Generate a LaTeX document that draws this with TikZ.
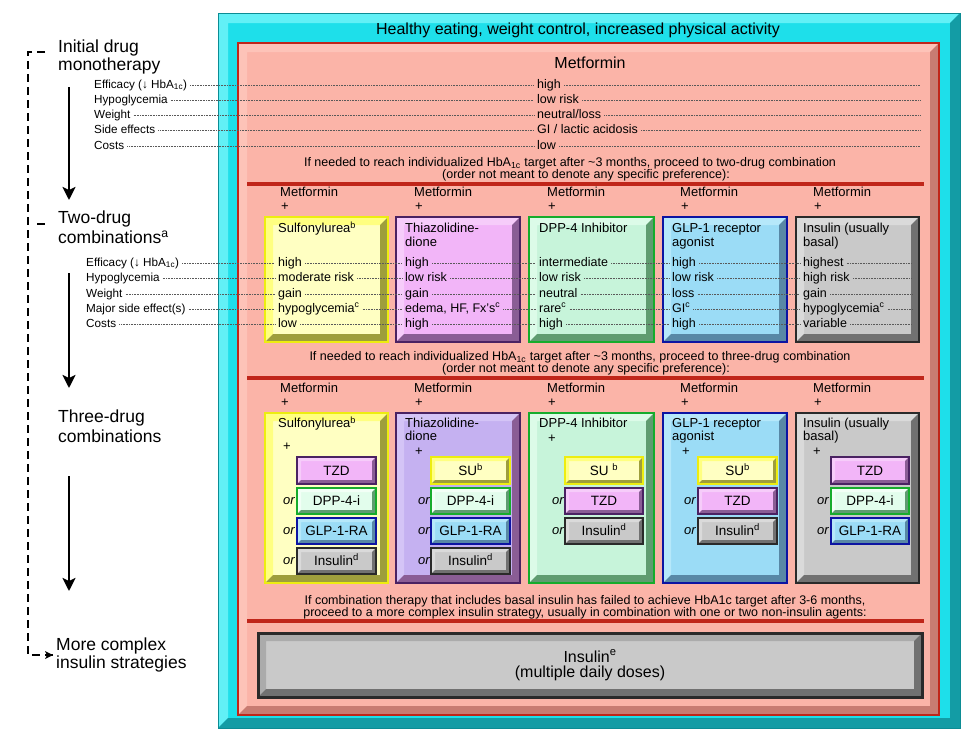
\documentclass[tikz,border=0pt]{standalone}
\usepackage{fontspec}
\setmainfont{Liberation Sans}
\usetikzlibrary{arrows.meta}
\definecolor{cyF}{HTML}{1EDFEA}\definecolor{cyL}{HTML}{62F0F6}\definecolor{cyD}{HTML}{139CA5}\definecolor{cyB}{HTML}{0C8C94}
\definecolor{saF}{HTML}{FBB4A8}\definecolor{saL}{HTML}{FDC3B8}\definecolor{saD}{HTML}{C87C72}\definecolor{saB}{HTML}{C0261A}
\definecolor{yeF}{HTML}{FFFFC2}\definecolor{yeL}{HTML}{FFFF80}\definecolor{yeD}{HTML}{9E9E3C}\definecolor{yeB}{HTML}{EDED10}
\definecolor{piF}{HTML}{F2B5F8}\definecolor{piL}{HTML}{F6CCFA}\definecolor{puD}{HTML}{8A5D95}\definecolor{puB}{HTML}{4A2262}
\definecolor{laF}{HTML}{C5B1F1}\definecolor{laL}{HTML}{D4C4F6}
\definecolor{mnF}{HTML}{C7F4DA}\definecolor{mnL}{HTML}{DCFBE8}\definecolor{gnD}{HTML}{5F9C70}\definecolor{gnB}{HTML}{16AC2C}
\definecolor{msF}{HTML}{E2FDEC}\definecolor{msL}{HTML}{F2FFF6}
\definecolor{blF}{HTML}{9BDCF6}\definecolor{blL}{HTML}{B6E8FA}\definecolor{blD}{HTML}{5888A6}\definecolor{blB}{HTML}{0C14A2}
\definecolor{grF}{HTML}{C9C9C9}\definecolor{grL}{HTML}{DADADA}\definecolor{grD}{HTML}{717171}\definecolor{grB}{HTML}{2A2A2A}
\definecolor{gbL}{HTML}{ABABAB}
\newcommand\defkind[5]{\tikzset{#1-f/.style={fill=#2},#1-l/.style={fill=#3},#1-d/.style={fill=#4},#1-b/.style={draw=#5}}}
\defkind{cy}{cyF}{cyL}{cyD}{cyB}
\defkind{sa}{saF}{saL}{saD}{saB}
\defkind{ye}{yeF}{yeL}{yeD}{yeB}
\defkind{pi}{piF}{piL}{puD}{puB}
\defkind{la}{laF}{laL}{puD}{puB}
\defkind{mn}{mnF}{mnL}{gnD}{gnB}
\defkind{ms}{msF}{msL}{gnD}{gnB}
\defkind{bl}{blF}{blL}{blD}{blB}
\defkind{gr}{grF}{grL}{grD}{grB}
\defkind{gb}{grF}{gbL}{grD}{grB}
\newcommand\bev[7]{%
 \fill[#6-f] (#1,#2) rectangle (#3,#4);
 \fill[#6-l] (#1,#2) -- (#3,#2) -- ({#3-#5},{#2+#5}) -- ({#1+#5},{#2+#5}) -- ({#1+#5},{#4-#5}) -- (#1,#4) -- cycle;
 \fill[#6-d] (#3,#4) -- (#1,#4) -- ({#1+#5},{#4-#5}) -- ({#3-#5},{#4-#5}) -- ({#3-#5},{#2+#5}) -- (#3,#2) -- cycle;
 \draw[#6-b,line width=#7] (#1,#2) rectangle (#3,#4);}
\newcommand\subbx[7]{\bev{#2}{#3}{#4}{#5}{4}{#1}{2.4pt}\node[sub] (#6) at ({(#2+#4)/2},{(#3+#5)/2}) {#7};}
\tikzset{
 hdr/.style={font=\fontsize{17.5}{17.5}\selectfont, anchor=west, inner sep=0pt},
 lbl/.style={font=\fontsize{11.7}{13}\selectfont, anchor=west, inner xsep=3pt, inner ysep=0pt, text height=8.5pt, text depth=2.5pt},
 val/.style={font=\fontsize{12.5}{13}\selectfont, anchor=west, inner xsep=3pt, inner ysep=0pt, text height=9pt, text depth=2.5pt},
 ttl/.style={font=\fontsize{13}{13}\selectfont, anchor=west, inner sep=0pt, text height=9.5pt, text depth=2.5pt},
 note/.style={font=\fontsize{12.5}{12}\selectfont, inner sep=0pt},
 sub/.style={font=\fontsize{13.5}{14}\selectfont, inner sep=0pt, text height=9.5pt, text depth=0pt},
 orl/.style={font=\fontsize{13}{13}\selectfont\itshape, anchor=west, inner sep=0pt, text height=6pt, text depth=0pt},
 big/.style={font=\fontsize{16}{16}\selectfont, inner sep=0pt},
 dots/.style={draw=black!65, line width=0.6pt, dash pattern=on 0.6pt off 1pt},
 redline/.style={draw=saB, line width=4pt},
 bigarrow/.style={line width=2.8pt, -{Stealth[length=13pt,width=13pt,inset=3pt]}},
 dashline/.style={line width=1.8pt, dash pattern=on 8pt off 5pt},
}
\begin{document}
\begin{tikzpicture}[x=1pt,y=-1pt]
\useasboundingbox (0,0) rectangle (964,732);
\fill[white] (0,0) rectangle (964,732);
% frames
\bev{218}{13}{960}{728}{10}{cy}{1pt}
\bev{238}{43}{939}{715}{9}{sa}{2pt}
\node[big] (title) at (578,30) {Healthy eating, weight control, increased physical activity};
% ---------- monotherapy
\node[big] (met0) at (590,63) {Metformin};
\node[lbl] (ml1) at (91,85) {Efficacy (↓ HbA\textsubscript{1c})};
\node[lbl] (ml2) at (91,100) {Hypoglycemia};
\node[lbl] (ml3) at (91,115) {Weight};
\node[lbl] (ml4) at (91,130.5) {Side effects};
\node[lbl] (ml5) at (91,146) {Costs};
\node[val] (mv1) at (534,85) {high};
\node[val] (mv2) at (534,100) {low risk};
\node[val] (mv3) at (534,115) {neutral/loss};
\node[val] (mv4) at (534,130.5) {GI / lactic acidosis};
\node[val] (mv5) at (534,146) {low};
\foreach \i/\yy in {1/85,2/100,3/115,4/130.5,5/146}{
 \coordinate (me\i) at (920,\yy);
 \draw[dots] (ml\i.east) -- (mv\i.west) (mv\i.east) -- (me\i);}
\node[note] (n1a) at (570,163) {If needed to reach individualized HbA\textsubscript{1c} target after \textasciitilde3 months, proceed to two-drug combination};
\node[note] (n1b) at (586,175.5) {(order not meant to denote any specific preference):};
\coordinate (r1a) at (247,184); \coordinate (r1b) at (924,184);
\draw[redline] (r1a) -- (r1b);
% ---------- two-drug
\foreach \i/\mx in {1/280,2/414,3/547,4/680,5/813}{
 \node[ttl] (tm\i) at (\mx,193) {Metformin};
 \node[ttl] (tp\i) at (\mx+1,207) {+};
 \node[ttl] (um\i) at (\mx,389) {Metformin};
 \node[ttl] (up\i) at (\mx+1,403) {+};}
\bev{265}{217}{388}{342}{8}{ye}{2.5pt}
\bev{396}{217}{520}{342}{8}{pi}{2.5pt}
\bev{529}{217}{654}{342}{8}{mn}{2.5pt}
\bev{663}{217}{787}{342}{8}{bl}{2.5pt}
\bev{796}{217}{919}{342}{8}{gr}{2.5pt}
\node[ttl] (h1) at (278,229) {Sulfonylurea\textsuperscript{b}};
\node[ttl] (h2) at (405,229) {Thiazolidine-};
\node[ttl] (h2b) at (405,243) {dione};
\node[ttl] (h3) at (539,229) {DPP-4 Inhibitor};
\node[ttl] (h4) at (672,229) {GLP-1 receptor};
\node[ttl] (h4b) at (672,243) {agonist};
\node[ttl] (h5) at (803,229) {Insulin (usually};
\node[ttl] (h5b) at (803,243) {basal)};
\node[lbl] (tl1) at (83,263) {Efficacy (↓ HbA\textsubscript{1c})};
\node[lbl] (tl2) at (83,278.5) {Hypoglycemia};
\node[lbl] (tl3) at (83,294) {Weight};
\node[lbl] (tl4) at (83,309) {Major side effect(s)};
\node[lbl] (tl5) at (83,324.5) {Costs};
\node[val] (c11) at (275,263) {high};
\node[val] (c12) at (275,278.5) {moderate risk};
\node[val] (c13) at (275,294) {gain};
\node[val] (c14) at (275,309) {hypoglycemia\textsuperscript{c}};
\node[val] (c15) at (275,324.5) {low};
\node[val] (c21) at (402,263) {high};
\node[val] (c22) at (402,278.5) {low risk};
\node[val] (c23) at (402,294) {gain};
\node[val] (c24) at (402,309) {edema, HF, Fx's\textsuperscript{c}};
\node[val] (c25) at (402,324.5) {high};
\node[val] (c31) at (536,263) {intermediate};
\node[val] (c32) at (536,278.5) {low risk};
\node[val] (c33) at (536,294) {neutral};
\node[val] (c34) at (536,309) {rare\textsuperscript{c}};
\node[val] (c35) at (536,324.5) {high};
\node[val] (c41) at (669,263) {high};
\node[val] (c42) at (669,278.5) {low risk};
\node[val] (c43) at (669,294) {loss};
\node[val] (c44) at (669,309) {GI\textsuperscript{c}};
\node[val] (c45) at (669,324.5) {high};
\node[val] (c51) at (800,263) {highest};
\node[val] (c52) at (800,278.5) {high risk};
\node[val] (c53) at (800,294) {gain};
\node[val] (c54) at (800,309) {hypoglycemia\textsuperscript{c}};
\node[val] (c55) at (800,324.5) {variable};
\foreach \r/\yy in {1/263,2/278.5,3/294,4/309,5/324.5}{
 \coordinate (te\r) at (912,\yy);
 \draw[dots] (tl\r.east) -- (c1\r.west) (c1\r.east) -- (c2\r.west) (c2\r.east) -- (c3\r.west)
   (c3\r.east) -- (c4\r.west) (c4\r.east) -- (c5\r.west) (c5\r.east) -- (te\r);}
\node[note] (n2a) at (580,357) {If needed to reach individualized HbA\textsubscript{1c} target after \textasciitilde3 months, proceed to three-drug combination};
\node[note] (n2b) at (586,369.5) {(order not meant to denote any specific preference):};
\coordinate (r2a) at (247,378); \coordinate (r2b) at (924,378);
\draw[redline] (r2a) -- (r2b);
% ---------- three-drug
\bev{265}{413}{388}{583}{8}{ye}{2.5pt}
\bev{396}{413}{520}{583}{8}{la}{2.5pt}
\bev{529}{413}{654}{583}{8}{mn}{2.5pt}
\bev{663}{413}{787}{583}{8}{bl}{2.5pt}
\bev{796}{413}{919}{583}{8}{gr}{2.5pt}
\node[ttl] (k1) at (278,424) {Sulfonylurea\textsuperscript{b}};
\node[ttl] (k2) at (405,424) {Thiazolidine-};
\node[ttl] (k2b) at (405,437) {dione};
\node[ttl] (k3) at (539,424) {DPP-4 Inhibitor};
\node[ttl] (k4) at (672,424) {GLP-1 receptor};
\node[ttl] (k4b) at (672,437) {agonist};
\node[ttl] (k5) at (803,424) {Insulin (usually};
\node[ttl] (k5b) at (803,437) {basal)};
\node[ttl] (kp1) at (283,447) {+};
\node[ttl] (kp2) at (415,452) {+};
\node[ttl] (kp3) at (548,439) {+};
\node[ttl] (kp4) at (682,452) {+};
\node[ttl] (kp5) at (813,452) {+};
% column 1
\subbx{pi}{297}{457}{376}{484}{s11}{TZD}
\subbx{ms}{297}{488}{376}{514}{s12}{DPP-4-i}
\subbx{bl}{297}{518}{376}{544}{s13}{GLP-1-RA}
\subbx{gr}{297}{548}{376}{574}{s14}{Insulin\textsuperscript{d}}
% column 2
\subbx{ye}{431}{457}{510}{484}{s21}{SU\textsuperscript{b}}
\subbx{ms}{431}{488}{510}{514}{s22}{DPP-4-i}
\subbx{bl}{431}{518}{510}{544}{s23}{GLP-1-RA}
\subbx{gr}{431}{548}{510}{574}{s24}{Insulin\textsuperscript{d}}
% column 3
\subbx{ye}{565}{457}{643}{484}{s31}{SU \textsuperscript{b}}
\subbx{pi}{565}{488}{643}{514}{s32}{TZD}
\subbx{gr}{565}{518}{643}{544}{s33}{Insulin\textsuperscript{d}}
% column 4
\subbx{ye}{698}{457}{777}{484}{s41}{SU\textsuperscript{b}}
\subbx{pi}{698}{488}{777}{514}{s42}{TZD}
\subbx{gr}{698}{518}{777}{544}{s43}{Insulin\textsuperscript{d}}
% column 5
\subbx{pi}{831}{457}{909}{484}{s51}{TZD}
\subbx{ms}{831}{488}{909}{514}{s52}{DPP-4-i}
\subbx{bl}{831}{518}{909}{544}{s53}{GLP-1-RA}
\foreach \nm/\ox/\oy in {o12/283/501,o13/283/531,o14/283/561,o22/418/501,o23/418/531,o24/418/561,
  o32/552/501,o33/552/531,o42/684/501,o43/684/531,o52/817/501,o53/817/531}{
 \node[orl] (\nm) at (\ox,\oy) {or};}
% ---------- complex insulin
\node[note] (n3a) at (585,601) {If combination therapy that includes basal insulin has failed to achieve HbA1c target after 3-6 months,};
\node[note] (n3b) at (585,613) {proceed to a more complex insulin strategy, usually in combination with one or two non-insulin agents:};
\coordinate (r3a) at (247,621); \coordinate (r3b) at (924,621);
\draw[redline] (r3a) -- (r3b);
\bev{258}{633}{922}{697}{8}{gb}{3pt}
\node[big] (ins) at (590,656) {Insulin\textsuperscript{e}};
\node[big] (insb) at (590,673.5) {(multiple daily doses)};
% ---------- left side (one node per line)
\node[hdr] (H1a) at (58,48) {Initial drug};
\node[hdr] (H1b) at (58,66) {monotherapy};
\node[hdr] (H2a) at (58,219) {Two-drug};
\node[hdr] (H2b) at (58,237) {combinations\textsuperscript{a}};
\node[hdr] (H3a) at (58,418) {Three-drug};
\node[hdr] (H3b) at (58,436) {combinations};
\node[hdr] (H4a) at (56,646) {More complex};
\node[hdr] (H4b) at (56,664) {insulin strategies};
\coordinate (A1s) at (69,87); \coordinate (A1e) at (69,200);
\coordinate (A2s) at (69,273); \coordinate (A2e) at (69,388);
\coordinate (A3s) at (69,476); \coordinate (A3e) at (69,591);
\draw[bigarrow] (A1s) -- (A1e);
\draw[bigarrow] (A2s) -- (A2e);
\draw[bigarrow] (A3s) -- (A3e);
\coordinate (D0) at (45,52); \coordinate (D1) at (28,52);
\coordinate (D2) at (28,655); \coordinate (D3) at (53,655);
\draw[dashline] (D0) -- (D1) -- (D2) -- (D3);
\fill (D3) -- ++(-8,-4) -- ++(2,4) -- ++(-2,4) -- cycle;
\coordinate (T0) at (37,224); \coordinate (T1) at (45,224);
\draw[line width=1.8pt] (T0) -- (T1);
\end{tikzpicture}
\end{document}
